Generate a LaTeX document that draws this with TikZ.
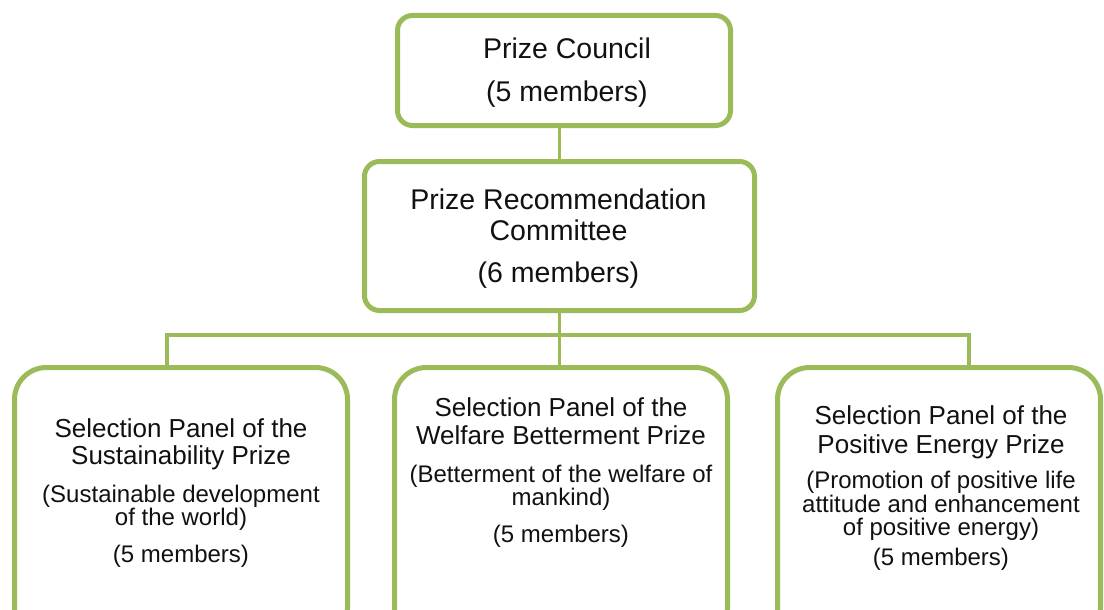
\documentclass[tikz,border=0pt]{standalone}
\usepackage{fontspec}
\setmainfont{Liberation Sans}
\usetikzlibrary{calc}
\definecolor{grn}{HTML}{9BBB59}
\definecolor{txt}{HTML}{111111}
\newcommand{\fixsp}{\lineskiplimit=-20pt\spaceskip=0pt\xspaceskip=0pt\relax}
\newcommand{\bigf}{\fontsize{28.5}{31}\selectfont\fixsp}
\newcommand{\titf}{\fontsize{26}{27.5}\selectfont\fixsp}
\newcommand{\titg}{\fontsize{26}{29}\selectfont\fixsp}
\newcommand{\desf}{\fontsize{24}{23}\selectfont\fixsp}
\newcommand{\desg}{\fontsize{24}{23.5}\selectfont\fixsp}
\begin{document}
\begin{tikzpicture}[x=1pt,y=-1pt,
  box/.style={draw=grn, line width=5pt, rounded corners=15pt, fill=white, inner sep=0pt},
  bbox/.style={box, rounded corners=32pt, minimum height=272.5pt},
  conn/.style={draw=grn, line width=3.5pt},
  lbl/.style={text=txt, inner sep=0pt, align=flush center, text width=330pt, anchor=north},
]
\useasboundingbox (0,0) rectangle (1104,610);
\clip (0,0) rectangle (1104,610);
\fill[white] (0,0) rectangle (1104,610);

% boxes
\node[box, minimum width=333pt, minimum height=110pt] (council) at (564,70.5) {};
\node[box, minimum width=390pt, minimum height=149pt] (rec) at (559.5,236) {};
\node[bbox, minimum width=333pt] (p1) at (181,503.75) {};
\node[bbox, minimum width=333pt] (p2) at (561,503.75) {};
\node[bbox, minimum width=323pt] (p3) at (939,503.75) {};

% connectors
\coordinate (bus) at (559.5,335);
\draw[conn] (rec.north) -- (rec.north |- council.south);
\draw[conn] (rec.south) -- (bus);
\draw[conn] ($(p1.north)+(-14,0)$) |- (bus) -| ($(p3.north)+(30,0)$);
\draw[conn] (bus) -- (bus |- p2.north);

% texts
\node[lbl] (council-t) at (567,37.7) {\bigf Prize Council\par\vspace{11.5pt}(5 members)\par};
\node[lbl] (rec-t) at (558.5,188.5) {\bigf Prize Recommendation\\Committee\par\vspace{11pt}(6 members)\par};
\node[lbl] (p1-t) at (181,418.3) {{\titf Selection Panel of the\\Sustainability Prize\par}\vspace{15pt}{\desf (Sustainable development\\of the world)\par\vspace{13.5pt}(5 members)\par}};
\node[lbl] (p2-t) at (561,397.7) {{\titf Selection Panel of the\\Welfare Betterment Prize\par}\vspace{15.5pt}{\desf (Betterment of the welfare of\\mankind)\par\vspace{13.5pt}(5 members)\par}};
\node[lbl] (p3-t) at (941,405) {{\titg Selection Panel of the\\Positive Energy Prize\par}\vspace{12pt}{\desg (Promotion of positive life\\attitude and enhancement\\of positive energy)\par\vspace{6.5pt}(5 members)\par}};
\end{tikzpicture}
\end{document}
